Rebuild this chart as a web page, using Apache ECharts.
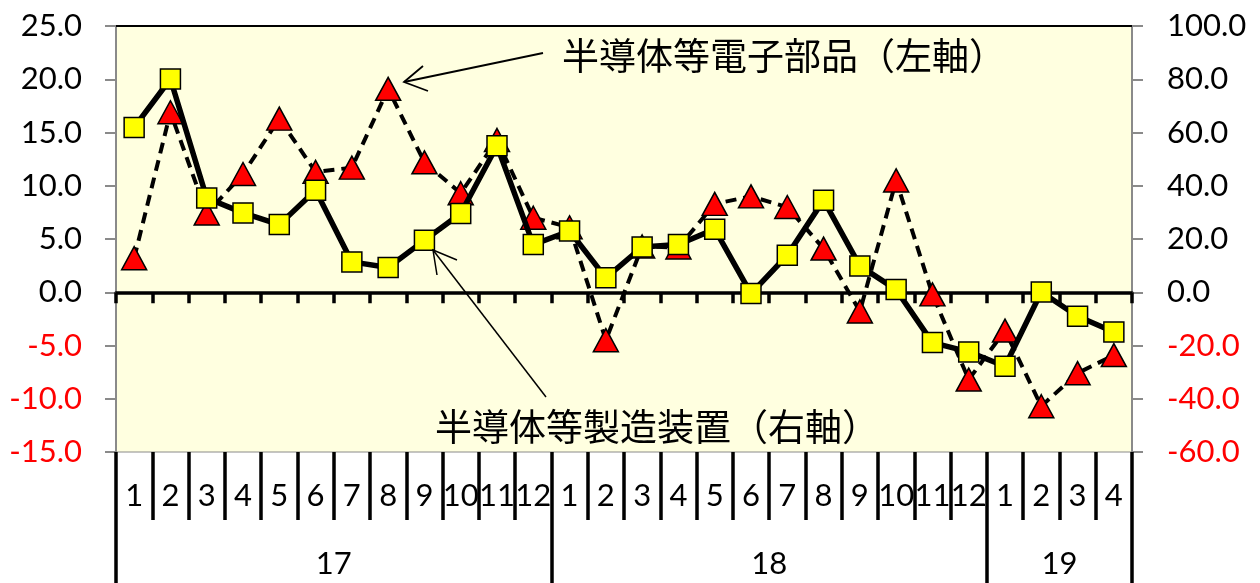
<!DOCTYPE html>
<html>
<head>
<meta charset="utf-8">
<script src="https://cdn.jsdelivr.net/npm/echarts@6/dist/echarts.min.js"></script>
<style>
html,body{margin:0;padding:0;background:#fff;}
#c{width:1260px;height:583px;}
</style>
</head>
<body>
<div id="c"></div>
<script>
// Categories: months 2017-01 .. 2019-04
const months = ['1','2','3','4','5','6','7','8','9','10','11','12',
                '1','2','3','4','5','6','7','8','9','10','11','12',
                '1','2','3','4'];
// Year labels and their month spans (start index, length)
const yearLabels = ['17', '18', '19'];
const yearStarts = [0, 12, 24];
const yearLengths = [12, 12, 4];

// 半導体等電子部品 (left axis, %)
const electronicParts = [3.2, 16.9, 7.4, 11.1, 16.3, 11.3, 11.7, 19.1, 12.2, 9.3, 14.3, 7.0,
                         6.1, -4.5, 4.3, 4.2, 8.3, 9.0, 8.0, 4.1, -1.8, 10.5, -0.2, -8.2,
                         -3.6, -10.7, -7.6, -5.9];
// 半導体等製造装置 (right axis, %)
const equipment = [61.9, 80.1, 35.4, 29.8, 25.4, 38.3, 11.4, 9.3, 19.5, 29.6, 55.0, 17.9,
                   23.0, 5.4, 17.0, 17.9, 23.7, -0.5, 13.9, 34.6, 9.9, 1.0, -18.9, -22.4,
                   -27.8, 0.1, -9.0, -14.9];

const leftAxis = {min: -15, max: 25, interval: 5};
const rightAxis = {min: -60, max: 100, interval: 20};

const seriesNames = ['半導体等電子部品（左軸）', '半導体等製造装置（右軸）'];

// derived boundary / centre positions for year axis
const yearBounds = yearStarts.concat([yearStarts[yearStarts.length - 1] + yearLengths[yearLengths.length - 1]]);
const yearCenters = yearStarts.map((s, i) => s + yearLengths[i] / 2);

const numFont = 'Lato';
const cjkFont = '"Noto Sans CJK JP"';

const chart = echarts.init(document.getElementById('c'), null, {renderer: 'canvas'});

const negRed = v => (Number(v) < 0 ? '#ff0000' : '#000000');

chart.setOption({
  animation: false,
  backgroundColor: '#ffffff',
  grid: {
    left: 116, top: 26, width: 1016, height: 426,
    show: true, backgroundColor: '#ffffe0',
    borderColor: '#8a8a8a', borderWidth: 1
  },
  xAxis: [
    { // zero line with short ticks
      type: 'category', data: months, boundaryGap: true,
      axisLine: {show: true, onZero: true, onZeroAxisIndex: 0, lineStyle: {color: '#000', width: 3.5}},
      axisTick: {show: true, interval: 0, length: 11, lineStyle: {color: '#000', width: 3.5}},
      axisLabel: {show: false},
      splitLine: {show: false}
    },
    { // month row
      type: 'category', data: months, boundaryGap: true, position: 'bottom',
      axisLine: {show: false, onZero: false},
      axisTick: {show: true, interval: 0, length: 68, lineStyle: {color: '#000', width: 3.5}},
      axisLabel: {show: true, interval: 0, fontFamily: numFont, fontSize: 31, color: '#000', margin: 28},
      splitLine: {show: false}
    },
    { // year row
      type: 'value', min: 0, max: months.length, position: 'bottom',
      axisLine: {show: false, onZero: false},
      axisTick: {show: true, customValues: yearBounds, length: 131, lineStyle: {color: '#000', width: 3.5}},
      axisLabel: {
        show: true, customValues: yearCenters, fontFamily: numFont, fontSize: 31, color: '#000', margin: 96,
        formatter: v => yearLabels[yearCenters.indexOf(v)] || ''
      },
      splitLine: {show: false}
    },
    { // top border
      type: 'category', data: months, position: 'top',
      axisLine: {show: true, onZero: false, lineStyle: {color: '#000', width: 2}},
      axisTick: {show: false}, axisLabel: {show: false}, splitLine: {show: false}
    }
  ],
  yAxis: [
    {
      type: 'value', position: 'left',
      min: leftAxis.min, max: leftAxis.max, interval: leftAxis.interval,
      axisLine: {show: true, lineStyle: {color: '#8a8a8a', width: 2}},
      axisTick: {show: true, length: 11, lineStyle: {color: '#8a8a8a', width: 2}},
      axisLabel: {fontFamily: numFont, fontSize: 31, margin: 34, color: negRed, formatter: v => v.toFixed(1)},
      splitLine: {show: false}
    },
    {
      type: 'value', position: 'right',
      min: rightAxis.min, max: rightAxis.max, interval: rightAxis.interval,
      axisLine: {show: true, lineStyle: {color: '#8a8a8a', width: 2}},
      axisTick: {show: true, length: 11, lineStyle: {color: '#8a8a8a', width: 2}},
      axisLabel: {fontFamily: numFont, fontSize: 31, margin: 35, color: negRed, formatter: v => v.toFixed(1)},
      splitLine: {show: false}
    }
  ],
  series: [
    {
      name: seriesNames[0], type: 'line', xAxisIndex: 0, yAxisIndex: 0,
      data: electronicParts,
      symbol: 'triangle', symbolSize: [25, 23],
      itemStyle: {color: '#ff0000', borderColor: '#000', borderWidth: 1.5},
      lineStyle: {color: '#000', width: 4, type: [11, 7]},
      z: 3
    },
    {
      name: seriesNames[1], type: 'line', xAxisIndex: 0, yAxisIndex: 1,
      data: equipment,
      symbol: 'rect', symbolSize: 20,
      itemStyle: {color: '#ffff00', borderColor: '#000', borderWidth: 1.5},
      lineStyle: {color: '#000', width: 5.5},
      z: 4
    }
  ],
  graphic: [
    {type: 'text', left: 562, top: 37, z: 10,
     style: {text: seriesNames[0], font: '37px ' + cjkFont, fill: '#000'}},
    {type: 'line', z: 10, shape: {x1: 543, y1: 53, x2: 404, y2: 82}, style: {stroke: '#000', lineWidth: 1.8}},
    {type: 'polyline', z: 10, shape: {points: [[423, 66], [404, 82], [428, 91]]}, style: {stroke: '#000', lineWidth: 1.8, fill: null}},
    {type: 'text', left: 435, top: 408, z: 10,
     style: {text: seriesNames[1], font: '37px ' + cjkFont, fill: '#000'}},
    {type: 'line', z: 10, shape: {x1: 433, y1: 250, x2: 546, y2: 397}, style: {stroke: '#000', lineWidth: 1.5}},
    {type: 'polyline', z: 10, shape: {points: [[457, 260], [433, 250], [437, 275]]}, style: {stroke: '#000', lineWidth: 1.5, fill: null}}
  ]
});
</script>
</body>
</html>
